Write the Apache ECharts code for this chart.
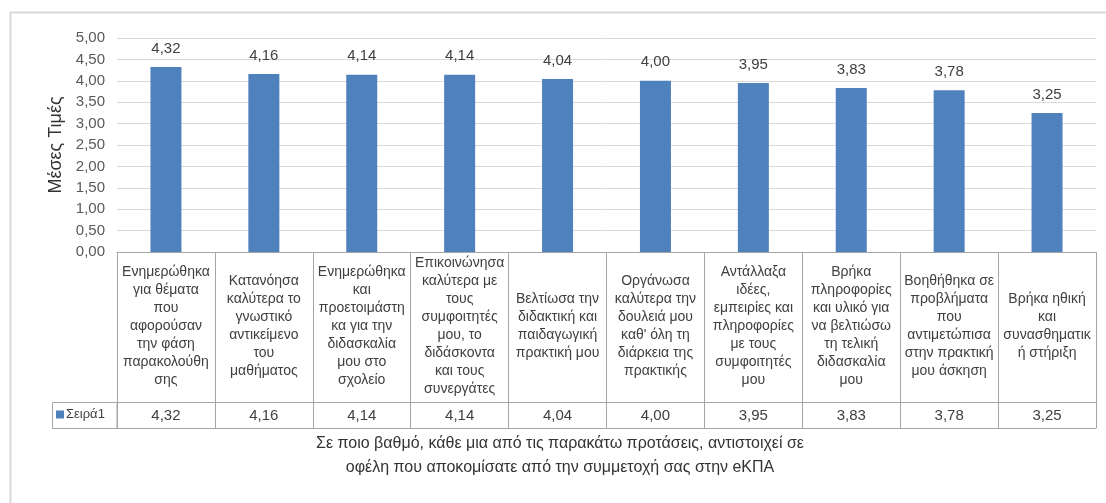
<!DOCTYPE html>
<html>
<head>
<meta charset="utf-8">
<script src="https://cdn.jsdelivr.net/npm/echarts@6/dist/echarts.min.js"></script>
<style>
html,body{margin:0;padding:0;background:#fff;}
#chart{width:1106px;height:503px;}
</style>
</head>
<body>
<div id="chart"></div>
<script>
// ---- data ----
const categories = [
  "Ενημερώθηκα\nγια θέματα\nπου\nαφορούσαν\nτην φάση\nπαρακολούθη\nσης",
  "Κατανόησα\nκαλύτερα το\nγνωστικό\nαντικείμενο\nτου\nμαθήματος",
  "Ενημερώθηκα\nκαι\nπροετοιμάστη\nκα για την\nδιδασκαλία\nμου στο\nσχολείο",
  "Επικοινώνησα\nκαλύτερα με\nτους\nσυμφοιτητές\nμου, το\nδιδάσκοντα\nκαι τους\nσυνεργάτες",
  "Βελτίωσα την\nδιδακτική και\nπαιδαγωγική\nπρακτική μου",
  "Οργάνωσα\nκαλύτερα την\nδουλειά μου\nκαθ' όλη τη\nδιάρκεια της\nπρακτικής",
  "Αντάλλαξα\nιδέες,\nεμπειρίες και\nπληροφορίες\nμε τους\nσυμφοιτητές\nμου",
  "Βρήκα\nπληροφορίες\nκαι υλικό για\nνα βελτιώσω\nτη τελική\nδιδασκαλία\nμου",
  "Βοηθήθηκα σε\nπροβλήματα\nπου\nαντιμετώπισα\nστην πρακτική\nμου άσκηση",
  "Βρήκα ηθική\nκαι\nσυνασθηματικ\nή στήριξη"
];
const seriesName = "Σειρά1";
const values = [4.32, 4.16, 4.14, 4.14, 4.04, 4.00, 3.95, 3.83, 3.78, 3.25];
const yTicks = { min: 0, max: 5, interval: 0.5 };
const yAxisTitle = "Μέσες Τιμές";
const xAxisTitle = "Σε ποιο βαθμό, κάθε μια από τις παρακάτω προτάσεις, αντιστοιχεί σε\nοφέλη που αποκομίσατε από την συμμετοχή σας στην eΚΠΑ";

// ---- helpers ----
const fmt = v => Number(v).toFixed(2).replace('.', ',');
const valueLabels = values.map(fmt);

const FONT = "'Liberation Sans', Arial, sans-serif";
const TEXT = '#404040';
const TABLE = '#a6a6a6';
const BLUE = '#4f81bd';

const chart = echarts.init(document.getElementById('chart'), null, { renderer: 'canvas' });

chart.setOption({
  animation: false,
  backgroundColor: '#ffffff',
  textStyle: { fontFamily: FONT },
  grid: { left: 117, right: 10, top: 38, bottom: 251, containLabel: false },
  legend: {
    data: [seriesName],
    left: 56, top: 408,
    icon: 'rect', itemWidth: 8, itemHeight: 8, itemGap: 2,
    padding: 0,
    textStyle: { fontSize: 13, color: TEXT, fontFamily: FONT, padding: [0, 0, 0, -3] },
    selectedMode: false
  },
  xAxis: [
    {
      type: 'category',
      position: 'bottom',
      data: categories,
      axisLine: { show: true, lineStyle: { color: TABLE, width: 1 } },
      axisTick: { show: true, interval: 0, length: 176, lineStyle: { color: TABLE, width: 1 } },
      axisLabel: {
        interval: 0, margin: 74, verticalAlign: 'middle', align: 'center',
        fontSize: 14, lineHeight: 18, color: TEXT, fontFamily: FONT
      },
      splitLine: { show: false }
    },
    {
      type: 'category',
      position: 'bottom',
      offset: 150,
      data: valueLabels,
      axisLine: { show: true, lineStyle: { color: TABLE, width: 1 } },
      axisTick: { show: false },
      axisLabel: { interval: 0, margin: 6, fontSize: 15, color: TEXT, fontFamily: FONT },
      splitLine: { show: false }
    },
    {
      type: 'category',
      position: 'bottom',
      offset: 176,
      data: valueLabels,
      axisLine: { show: true, lineStyle: { color: TABLE, width: 1 } },
      axisTick: { show: false },
      axisLabel: { show: false },
      splitLine: { show: false }
    }
  ],
  yAxis: {
    type: 'value',
    min: yTicks.min, max: yTicks.max, interval: yTicks.interval,
    name: yAxisTitle,
    nameLocation: 'middle',
    nameGap: 52,
    nameRotate: 90,
    nameTextStyle: { fontSize: 18, color: '#333333', fontFamily: FONT },
    axisLine: { show: false },
    axisTick: { show: false },
    axisLabel: { formatter: fmt, fontSize: 15, color: '#595959', margin: 12, fontFamily: FONT },
    splitLine: { lineStyle: { color: '#d9d9d9', width: 1 } }
  },
  series: [{
    name: seriesName,
    type: 'bar',
    xAxisIndex: 0,
    data: values,
    barWidth: 31,
    itemStyle: { color: BLUE },
    label: {
      show: true, position: 'top', distance: 11,
      formatter: p => fmt(p.value),
      fontSize: 15, color: TEXT, fontFamily: FONT
    }
  }],
  graphic: [
    {
      type: 'rect',
      shape: { x: 10.5, y: 12.5, width: 1200, height: 600 },
      style: { fill: 'none', stroke: '#d9d9d9', lineWidth: 2 },
      silent: true, z: -10
    },
    {
      type: 'rect',
      shape: { x: 52.5, y: 402.5, width: 64.5, height: 26 },
      style: { fill: 'none', stroke: TABLE, lineWidth: 1 },
      silent: true
    },
    {
      type: 'text',
      x: 560, y: 432,
      style: {
        text: xAxisTitle, align: 'center', verticalAlign: 'top',
        fontSize: 16, lineHeight: 24, fill: '#333333', fontFamily: FONT
      },
      silent: true
    }
  ]
});
</script>
</body>
</html>
